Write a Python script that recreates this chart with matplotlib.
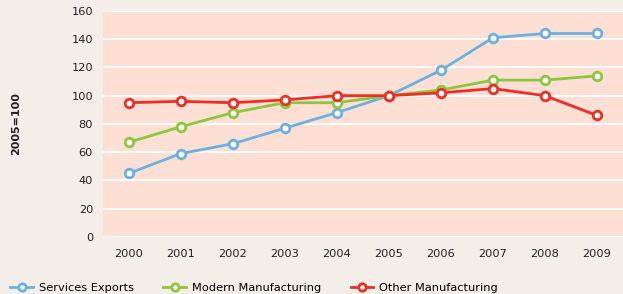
import matplotlib.pyplot as plt

# Daten (2005=100)
years = [2000, 2001, 2002, 2003, 2004, 2005, 2006, 2007, 2008, 2009]
services = [45, 59, 66, 77, 88, 100, 118, 141, 144, 144]
modern = [67, 78, 88, 95, 95, 100, 104, 111, 111, 114]
other = [95, 96, 95, 97, 100, 100, 102, 105, 100, 86]

series = [
    ("Services Exports", services, "#6cb0e0"),
    ("Modern Manufacturing", modern, "#8cc63f"),
    ("Other Manufacturing", other, "#ee2e24"),
]

fig = plt.figure(figsize=(6.23, 2.94), dpi=100, facecolor="#f3efe8")
ax = fig.add_axes([0.165, 0.194, 0.835, 0.769])
ax.set_facecolor("#fde0d3")

handles = []
for label, vals, col in series:
    h, = ax.plot(years, vals, color=col, lw=2.0, marker="o", ms=6.2,
                 mfc="white", mec=col, mew=2.0, label=label, zorder=3)
    handles.append(h)

ax.set_xlim(1999.5, 2009.5)
ax.set_ylim(0, 160)
ax.set_yticks(range(0, 161, 20))
ax.set_xticks(years)
ax.grid(axis="y", color="white", lw=1.3)
ax.set_axisbelow(True)
for s in ax.spines.values():
    s.set_visible(False)
ax.tick_params(length=0, labelsize=8.2, colors="#231f20", pad=7)
ax.tick_params(axis="x", pad=9)
ax.set_ylabel("2005=100", fontsize=8, fontweight="bold", color="#231f20", labelpad=36)

fig.legend(handles=handles, loc="lower left", bbox_to_anchor=(0.0, -0.03), ncol=3,
           frameon=False, fontsize=8.2, handlelength=2.0, columnspacing=2.6,
           handletextpad=0.5, markerscale=0.85)

fig.savefig("out.png", dpi=100, facecolor=fig.get_facecolor())
